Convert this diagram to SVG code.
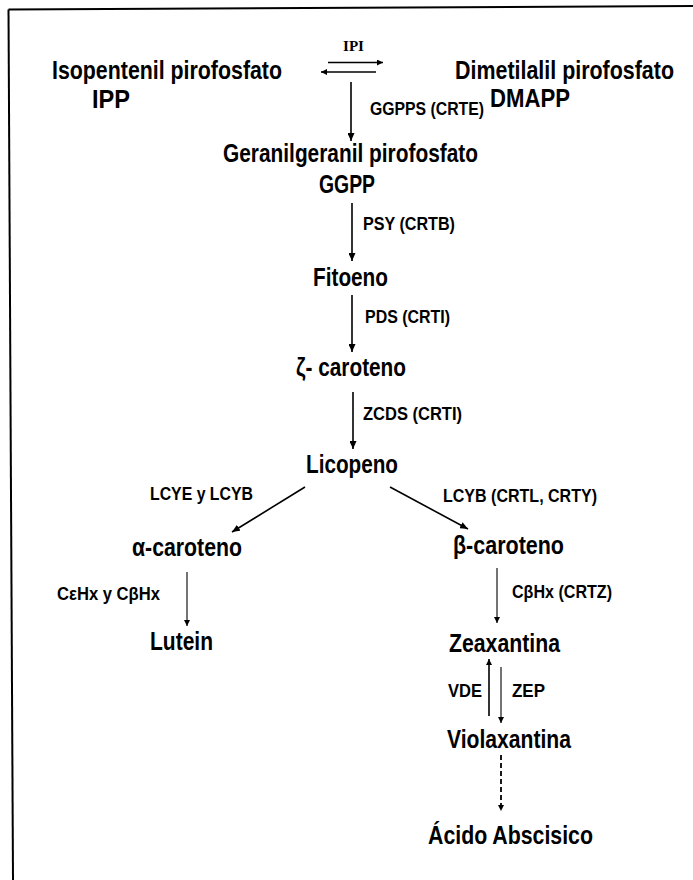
<svg xmlns="http://www.w3.org/2000/svg" width="693" height="880" viewBox="0 0 693 880">
<style>
  .bg{fill:#ffffff}
  .frame{stroke:#000;stroke-width:2;fill:none}
  .node{font-family:"Liberation Sans",Arial,sans-serif;font-weight:bold;font-size:25px;fill:#000}
  .lbl{font-family:"Liberation Sans",Arial,sans-serif;font-weight:bold;font-size:19px;fill:#000}
  .ipi{font-family:"Liberation Serif","Times New Roman",serif;font-weight:bold;font-size:15px;fill:#000}
  .c{stroke:#000;stroke-width:1.6;fill:none}
  .thin{stroke:#000;stroke-width:1.1;fill:none}
  .dash{stroke:#000;stroke-width:1.8;fill:none;stroke-dasharray:5 3}
</style>
<defs>
  <marker id="ah" markerUnits="userSpaceOnUse" markerWidth="8" markerHeight="7" refX="8" refY="3.5" orient="auto">
    <path d="M0,0 L8,3.5 L0,7 z" fill="#000"/>
  </marker>
  <marker id="ahs" markerUnits="userSpaceOnUse" markerWidth="6" markerHeight="6" refX="6" refY="3" orient="auto">
    <path d="M0,0 L6,3 L0,6 z" fill="#000"/>
  </marker>
</defs>
<rect class="bg" x="0" y="0" width="693" height="880"/>
<g id="frame">
  <line class="frame" x1="8.5" y1="9.5" x2="693" y2="6"/>
  <line class="frame" x1="8.5" y1="9.5" x2="13" y2="880"/>
</g>

<g id="connectors">
  <line class="c" x1="328" y1="62.5" x2="383" y2="62.5" marker-end="url(#ahs)"/>
  <line class="c" x1="376" y1="72" x2="321" y2="72" marker-end="url(#ahs)"/>
  <line class="c" x1="351" y1="82" x2="351" y2="141" marker-end="url(#ah)"/>
  <line class="c" x1="352" y1="203" x2="352" y2="261" marker-end="url(#ah)"/>
  <line class="c" x1="352" y1="295" x2="352" y2="352" marker-end="url(#ah)"/>
  <line class="c" x1="353" y1="392" x2="353" y2="449" marker-end="url(#ah)"/>
  <line class="c" x1="305" y1="487" x2="232" y2="532" marker-end="url(#ah)"/>
  <line class="c" x1="390" y1="487" x2="468" y2="529" marker-end="url(#ah)"/>
  <line class="thin" x1="187" y1="572" x2="187" y2="626" marker-end="url(#ahs)"/>
  <line class="thin" x1="497" y1="568" x2="497" y2="623" marker-end="url(#ahs)"/>
  <line class="c" x1="489" y1="716" x2="489" y2="659" marker-end="url(#ahs)"/>
  <line class="thin" x1="501" y1="667" x2="501" y2="723" marker-end="url(#ahs)"/>
  <line class="dash" x1="501" y1="755" x2="501" y2="811" marker-end="url(#ahs)"/>
</g>

<g id="labels">
  <text class="ipi" x="343" y="51" textLength="21" lengthAdjust="spacingAndGlyphs">IPI</text>
  <text class="lbl" x="370" y="115" textLength="114" lengthAdjust="spacingAndGlyphs">GGPPS (CRTE)</text>
  <text class="lbl" x="363" y="230" textLength="92" lengthAdjust="spacingAndGlyphs">PSY (CRTB)</text>
  <text class="lbl" x="365" y="323" textLength="85" lengthAdjust="spacingAndGlyphs">PDS (CRTI)</text>
  <text class="lbl" x="363" y="420" textLength="99" lengthAdjust="spacingAndGlyphs">ZCDS (CRTI)</text>
  <text class="lbl" x="150" y="500" textLength="103" lengthAdjust="spacingAndGlyphs">LCYE y LCYB</text>
  <text class="lbl" x="443" y="502" textLength="154" lengthAdjust="spacingAndGlyphs">LCYB (CRTL, CRTY)</text>
  <text class="lbl" x="57" y="600" textLength="103" lengthAdjust="spacingAndGlyphs">CεHx y CβHx</text>
  <text class="lbl" x="512" y="598" textLength="100" lengthAdjust="spacingAndGlyphs">CβHx (CRTZ)</text>
  <text class="lbl" x="448" y="697" textLength="34" lengthAdjust="spacingAndGlyphs">VDE</text>
  <text class="lbl" x="512" y="697" textLength="33" lengthAdjust="spacingAndGlyphs">ZEP</text>
</g>

<g id="node-ipp">
  <text class="node" x="52" y="79" textLength="230" lengthAdjust="spacingAndGlyphs">Isopentenil pirofosfato</text>
  <text class="node" x="92" y="108" textLength="38" lengthAdjust="spacingAndGlyphs">IPP</text>
</g>
<g id="node-dmapp">
  <text class="node" transform="translate(455,79) scale(1,1.17)" x="0" y="0" style="font-size:21.4px" textLength="219" lengthAdjust="spacingAndGlyphs">Dimetilalil pirofosfato</text>
  <text class="node" x="490" y="107" textLength="80" lengthAdjust="spacingAndGlyphs">DMAPP</text>
</g>
<g id="node-ggpp">
  <text class="node" x="223" y="162" textLength="255" lengthAdjust="spacingAndGlyphs">Geranilgeranil pirofosfato</text>
  <text class="node" x="319" y="193" textLength="56" lengthAdjust="spacingAndGlyphs">GGPP</text>
</g>
<g id="node-fitoeno">
  <text class="node" x="313" y="286" textLength="75" lengthAdjust="spacingAndGlyphs">Fitoeno</text>
</g>
<g id="node-zcaroteno">
  <text class="node" x="296" y="376" textLength="110" lengthAdjust="spacingAndGlyphs">ζ- caroteno</text>
</g>
<g id="node-licopeno">
  <text class="node" x="306" y="473" textLength="92" lengthAdjust="spacingAndGlyphs">Licopeno</text>
</g>
<g id="node-acaroteno">
  <text class="node" x="132" y="556" textLength="110" lengthAdjust="spacingAndGlyphs">α-caroteno</text>
</g>
<g id="node-bcaroteno">
  <text class="node" x="453" y="554" textLength="111" lengthAdjust="spacingAndGlyphs">β-caroteno</text>
</g>
<g id="node-lutein">
  <text class="node" x="150" y="650" textLength="63" lengthAdjust="spacingAndGlyphs">Lutein</text>
</g>
<g id="node-zeaxantina">
  <text class="node" x="449" y="652" textLength="111" lengthAdjust="spacingAndGlyphs">Zeaxantina</text>
</g>
<g id="node-violaxantina">
  <text class="node" x="447" y="748" textLength="124" lengthAdjust="spacingAndGlyphs">Violaxantina</text>
</g>
<g id="node-aba">
  <text class="node" x="428" y="844" textLength="165" lengthAdjust="spacingAndGlyphs">Ácido Abscisico</text>
</g>
</svg>
